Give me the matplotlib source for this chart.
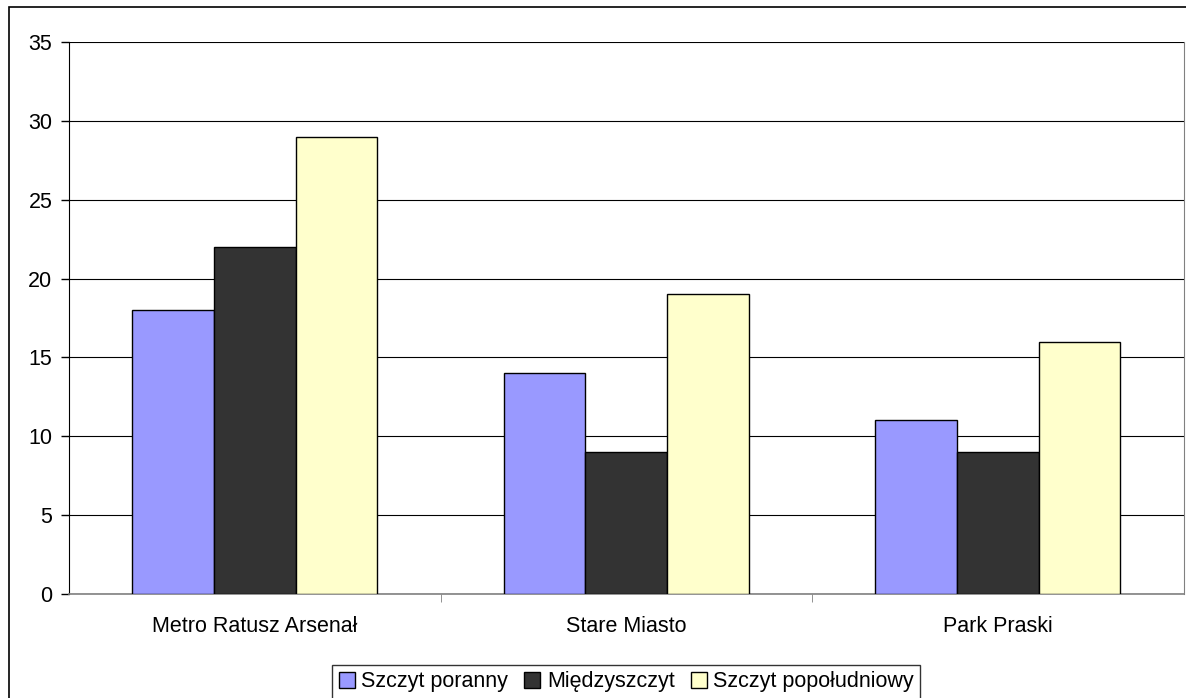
import numpy as np
import matplotlib.pyplot as plt
from matplotlib.patches import Rectangle

plt.rcParams['font.family'] = ['Liberation Sans', 'DejaVu Sans']

# dane
przystanki = ["Metro Ratusz Arsenał", "Stare Miasto", "Park Praski"]
serie = ["Szczyt poranny", "Międzyszczyt", "Szczyt popołudniowy"]
poranny = [18, 14, 11]
miedzy = [22, 9, 9]
popoludnie = [29, 19, 16]
kolory = ["#9999FF", "#333333", "#FFFFCC"]

fig = plt.figure(figsize=(11.86, 6.98), dpi=100)
ax = fig.add_axes([0.0582, 0.149, 0.998 - 0.0582, 0.940 - 0.149])

x = np.arange(len(przystanki))
w = 0.22
for i, (vals, lab) in enumerate(zip([poranny, miedzy, popoludnie], serie)):
    ax.bar(x + (i - 1) * w, vals, width=w, color=kolory[i], edgecolor="black",
           linewidth=1, label=lab, zorder=3)

ax.set_xlim(-0.5, 2.5)
ax.set_ylim(0, 35)
ax.set_yticks(range(0, 36, 5))
ax.yaxis.grid(True, color="black", linewidth=0.8, zorder=0)
ax.set_xticks(x)
ax.set_xticklabels(przystanki)
ax.tick_params(axis="x", length=0, pad=16, labelsize=15.5)
ax.tick_params(axis="y", length=6, width=1, direction="out", labelsize=15.5, pad=6)
ax.set_xticks([0.5, 1.5], minor=True)
ax.tick_params(axis="x", which="minor", length=6, direction="out", color="#808080")

ax.spines["top"].set_visible(False)
ax.spines["right"].set_color("#808080")
ax.spines["bottom"].set_color("#808080")
ax.spines["bottom"].set_linewidth(1.2)
ax.spines["left"].set_color("black")

leg = ax.legend(loc="lower center", bbox_to_anchor=(0.5, -0.19), ncol=3,
                fontsize=15.5, frameon=True, fancybox=False, handlelength=0.75,
                handleheight=0.75, handletextpad=0.3, columnspacing=0.75,
                borderpad=0.3, borderaxespad=0)
leg.get_frame().set_edgecolor("black")
leg.get_frame().set_linewidth(1)

fig.patches.append(Rectangle((9 / 1186, -0.01), 1.0, 1 - 7 / 698 + 0.01,
                             transform=fig.transFigure, fill=False,
                             edgecolor="black", linewidth=1.2))

fig.savefig("out.png", dpi=100)
